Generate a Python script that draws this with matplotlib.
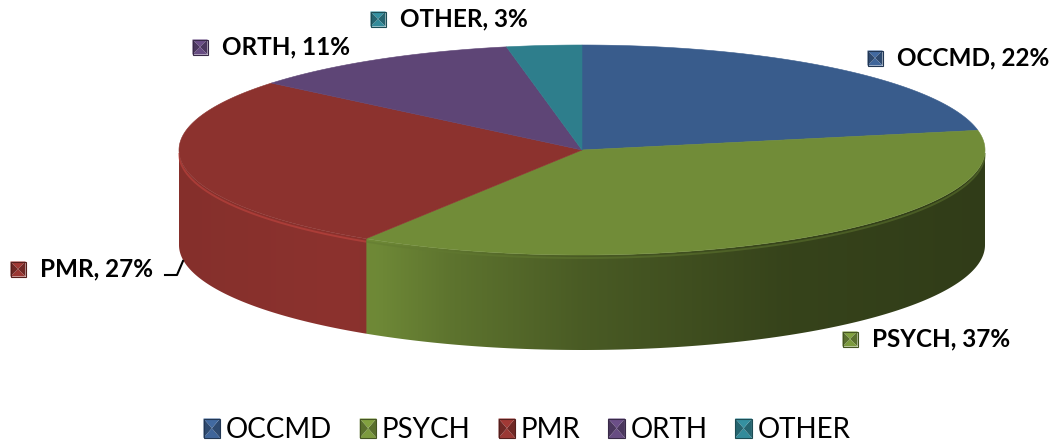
import numpy as np
import matplotlib.pyplot as plt
from matplotlib.patches import Polygon, Patch
from matplotlib.legend_handler import HandlerBase
from matplotlib.colors import to_rgb

labels = ["OCCMD", "PSYCH", "PMR", "ORTH", "OTHER"]
values = [22, 37, 27, 11, 3]
colors = ["#395C8C", "#718C38", "#8C322E", "#5E4576", "#2E7E8C"]

# pie geometry in pixel units (y grows downward)
CX, CY, RX, RY, DEPTH = 582, 150, 403, 105, 95

# brightness of the side wall against horizontal position
shade_x = [-1.0, -0.6, -0.5, -0.33, 0.0, 0.5, 1.0]
shade_f = [0.95, 1.0, 0.97, 0.83, 0.65, 0.48, 0.43]

# data label anchors (left edge of text, vertical centre)
label_pos = [(897, 58), (872, 339), (40, 269), (222, 47), (400, 19)]

plt.rcParams["font.family"] = ["Lato", "DejaVu Sans"]


def rim(theta):
    # theta in degrees, clockwise from 12 o'clock
    t = np.radians(theta)
    return CX + RX * np.sin(t), CY - RY * np.cos(t)


def shade(c, f):
    return tuple(np.clip(np.array(to_rgb(c)) * f, 0, 1))


def bevel(x, y, s, c):
    # small square with a pyramid bevel like the Excel markers
    h = s / 2
    a, b, cc, d = (x - h, y - h), (x + h, y - h), (x + h, y + h), (x - h, y + h)
    m = (x, y)
    out = []
    for pts, f in [([a, b, m], 1.15), ([b, cc, m], 0.8),
                   ([cc, d, m], 1.1), ([d, a, m], 0.8)]:
        out.append(Polygon(pts, closed=True, facecolor=shade(c, f),
                           edgecolor="none"))
    out.append(Polygon([a, b, cc, d], closed=True, facecolor="none",
                       edgecolor=shade(c, 0.6), linewidth=0.8))
    return out


class BevelHandler(HandlerBase):
    def create_artists(self, legend, orig_handle, xdescent, ydescent,
                       width, height, fontsize, trans):
        x = width / 2 - xdescent
        y = height / 2 - ydescent
        c = orig_handle.get_facecolor()
        h = height / 2
        hw = width / 2
        a, b, cc, d = (x - hw, y - h), (x + hw, y - h), (x + hw, y + h), (x - hw, y + h)
        m = (x, y)
        arts = []
        for pts, f in [([a, b, m], 1.1), ([b, cc, m], 0.8),
                       ([cc, d, m], 1.15), ([d, a, m], 0.8)]:
            arts.append(Polygon(pts, closed=True, facecolor=shade(c, f),
                                edgecolor="none", transform=trans))
        arts.append(Polygon([a, b, cc, d], closed=True, facecolor="none",
                            edgecolor=shade(c, 0.6), linewidth=0.8,
                            transform=trans))
        return arts


def main():
    fig = plt.figure(figsize=(10.54, 4.41), dpi=100)
    ax = fig.add_axes([0, 0, 1, 1])
    ax.set_xlim(0, 1054)
    ax.set_ylim(441, 0)
    ax.axis("off")

    bounds = np.concatenate([[0], np.cumsum(values)]) / sum(values) * 360

    # side wall: one gradient image clipped to the front band
    n = 1200
    xn = (np.arange(n) + 0.5) / n * 2 - 1
    theta = 180 - np.degrees(np.arcsin(xn))
    idx = np.clip(np.searchsorted(bounds, theta, side="right") - 1, 0, len(values) - 1)
    fac = np.interp(xn, shade_x, shade_f)
    row = np.array([shade(colors[k], f) for k, f in zip(idx, fac)])
    img = np.repeat(row[None, :, :], 4, axis=0)
    im = ax.imshow(img, extent=(CX - RX, CX + RX, CY + RY + DEPTH, CY),
                   aspect="auto", interpolation="bilinear", zorder=1)
    tt = np.linspace(90, 270, 400)
    rx, ry = rim(tt)
    band = np.concatenate([np.column_stack([rx, ry]),
                           np.column_stack([rx[::-1], ry[::-1] + DEPTH])])
    clip = Polygon(band, closed=True, facecolor="none", edgecolor="none")
    ax.add_patch(clip)
    im.set_clip_path(clip)

    # light bevel along the front rim
    for i, c in enumerate(colors):
        lo = max(bounds[i], 90)
        hi = min(bounds[i + 1], 270)
        if lo >= hi:
            continue
        tt = np.linspace(lo, hi, 200)
        rx, ry = rim(tt)
        f = np.interp(np.sin(np.radians(tt)).mean(), shade_x, shade_f)
        ax.plot(rx, ry + 3, color=shade(c, 1.3 * f + 0.2), linewidth=1.4,
                alpha=0.5, solid_capstyle="butt", zorder=2)

    # top face
    for i, c in enumerate(colors):
        tt = np.linspace(bounds[i], bounds[i + 1], 200)
        rx, ry = rim(tt)
        xs = np.concatenate([[CX], rx])
        ys = np.concatenate([[CY], ry])
        ax.fill(xs, ys, facecolor=c, edgecolor=c, linewidth=0.4, zorder=3)

    # data labels
    for lab, v, c, (tx, ty) in zip(labels, values, colors, label_pos):
        for p in bevel(tx - 22, ty, 15, c):
            ax.add_patch(p)
        ax.text(tx, ty, f"{lab}, {v}%", fontsize=17.5, fontweight="bold",
                ha="left", va="center", color="black")

    # leader line for PMR
    ax.plot([165, 177, 183], [275, 275, 261], color="black", linewidth=1.5)

    handles = [Patch(facecolor=c, label=lab) for lab, c in zip(labels, colors)]
    fig.legend(handles=handles, loc="center", bbox_to_anchor=(0.5, 0.025),
               ncol=5, frameon=False, fontsize=20, handlelength=0.6,
               handleheight=0.7, handletextpad=0.2, columnspacing=1.0,
               handler_map={Patch: BevelHandler()})

    fig.savefig("out.png", dpi=100)


if __name__ == "__main__":
    main()
